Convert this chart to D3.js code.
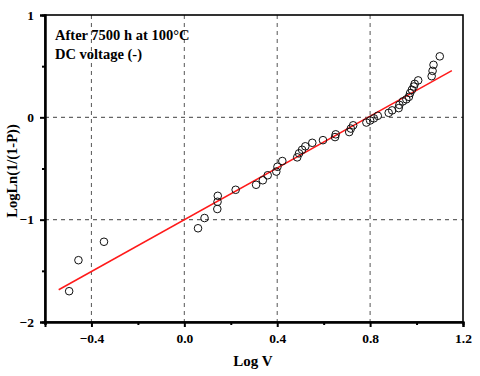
<!DOCTYPE html>
<html>
<head>
<meta charset="utf-8">
<script src="https://cdn.jsdelivr.net/npm/d3@7"></script>
<style>
  body { margin: 0; background: #fff; }
  text { font-family: "Liberation Serif", "Times New Roman", serif; font-weight: bold; fill: #000; }
</style>
</head>
<body>
<svg id="chart" width="480" height="376"></svg>
<script>
// data
var logV = [-0.496, -0.456, -0.346, 0.059, 0.087, 0.142, 0.143, 0.144, 0.221, 0.309,
  0.338, 0.359, 0.396, 0.401, 0.422, 0.486, 0.494, 0.507, 0.521, 0.551,
  0.597, 0.649, 0.652, 0.710, 0.717, 0.727, 0.784, 0.800, 0.816, 0.833,
  0.880, 0.895, 0.923, 0.926, 0.941, 0.956, 0.967, 0.972, 0.980, 0.988,
  0.992, 1.007, 1.065, 1.069, 1.073, 1.100];
var logLn = [-1.699, -1.396, -1.216, -1.084, -0.984, -0.896, -0.825, -0.767, -0.708, -0.659,
  -0.615, -0.566, -0.530, -0.483, -0.427, -0.391, -0.352, -0.317, -0.283, -0.249,
  -0.223, -0.193, -0.166, -0.144, -0.110, -0.078, -0.051, -0.031, -0.010, 0.015,
  0.044, 0.068, 0.090, 0.122, 0.156, 0.176, 0.200, 0.236, 0.269, 0.301,
  0.327, 0.361, 0.402, 0.454, 0.513, 0.596];
var fitX = [-0.541, 1.152];
var fitY = [-1.685, 0.457];
var xTicks = [-0.4, 0.0, 0.4, 0.8, 1.2];
var xMinor = [-0.6, -0.2, 0.2, 0.6, 1.0];
var yTicks = [-2, -1, 0, 1];
var yMinor = [-1.5, -0.5, 0.5];
var xGrid = [-0.4, 0.0, 0.4, 0.8];
var yGrid = [-1, 0];
var notes = ["After 7500 h at 100°C", "DC voltage (-)"];

var svg = d3.select("#chart");
var m = {left: 45, right: 17, top: 15, bottom: 54};
var width = 480 - m.left - m.right,
    height = 376 - m.top - m.bottom;

var x = d3.scaleLinear().domain([-0.6, 1.2]).range([0, width]);
var y = d3.scaleLinear().domain([-2, 1]).range([height, 0]);

var g = svg.append("g").attr("transform", "translate(" + m.left + "," + m.top + ")");

// grid
g.selectAll(".gx").data(xGrid).enter().append("line")
    .attr("x1", function(d) { return x(d); })
    .attr("x2", function(d) { return x(d); })
    .attr("y1", 0).attr("y2", height)
    .attr("stroke", "#666").attr("stroke-width", 1.1).attr("stroke-dasharray", "4,4");
g.selectAll(".gy").data(yGrid).enter().append("line")
    .attr("y1", function(d) { return y(d); })
    .attr("y2", function(d) { return y(d); })
    .attr("x1", 0).attr("x2", width)
    .attr("stroke", "#666").attr("stroke-width", 1.1).attr("stroke-dasharray", "4,4");

// frame
g.append("rect")
    .attr("width", width).attr("height", height)
    .attr("fill", "none").attr("stroke", "#000").attr("stroke-width", 1.6);

// axes
var xAxis = g.append("g").attr("transform", "translate(0," + height + ")")
    .call(d3.axisBottom(x).tickValues(xTicks).tickFormat(d3.format(".1f")).tickSize(5).tickPadding(6));
var xAxisMinor = g.append("g").attr("transform", "translate(0," + height + ")")
    .call(d3.axisBottom(x).tickValues(xMinor).tickFormat("").tickSize(3));
var yAxis = g.append("g")
    .call(d3.axisLeft(y).tickValues(yTicks).tickFormat(d3.format("d")).tickSize(5).tickPadding(6));
var yAxisMinor = g.append("g")
    .call(d3.axisLeft(y).tickValues(yMinor).tickFormat("").tickSize(3));

[xAxis, xAxisMinor, yAxis, yAxisMinor].forEach(function(a) {
  a.select(".domain").attr("stroke-width", 2);
  a.selectAll(".tick line").attr("stroke-width", 2);
  a.selectAll("text").style("font-size", "13.5px")
      .style("font-family", "'Liberation Serif', serif").style("font-weight", "bold");
});

// fit line
var line = d3.line()
    .x(function(d) { return x(d[0]); })
    .y(function(d) { return y(d[1]); });
g.append("path")
    .datum(d3.zip(fitX, fitY))
    .attr("d", line)
    .attr("fill", "none").attr("stroke", "#ff1a1a").attr("stroke-width", 1.5);

// points
g.selectAll(".pt").data(d3.zip(logV, logLn)).enter().append("circle")
    .attr("cx", function(d) { return x(d[0]); })
    .attr("cy", function(d) { return y(d[1]); })
    .attr("r", 3.8)
    .attr("fill", "none").attr("stroke", "#111").attr("stroke-width", 1);

// annotation
g.selectAll(".note").data(notes).enter().append("text")
    .attr("x", 10)
    .attr("y", function(d, i) { return 25 + i * 19; })
    .style("font-size", "14.5px")
    .text(function(d) { return d; });

// axis labels
svg.append("text")
    .attr("x", 253).attr("y", 366)
    .attr("text-anchor", "middle")
    .style("font-size", "15px")
    .text("Log V");
svg.append("text")
    .attr("transform", "translate(17," + (m.top + 156) + ")rotate(-90)")
    .attr("text-anchor", "middle")
    .style("font-size", "14.5px")
    .text("LogLn(1/(1-P))");
</script>
</body>
</html>
